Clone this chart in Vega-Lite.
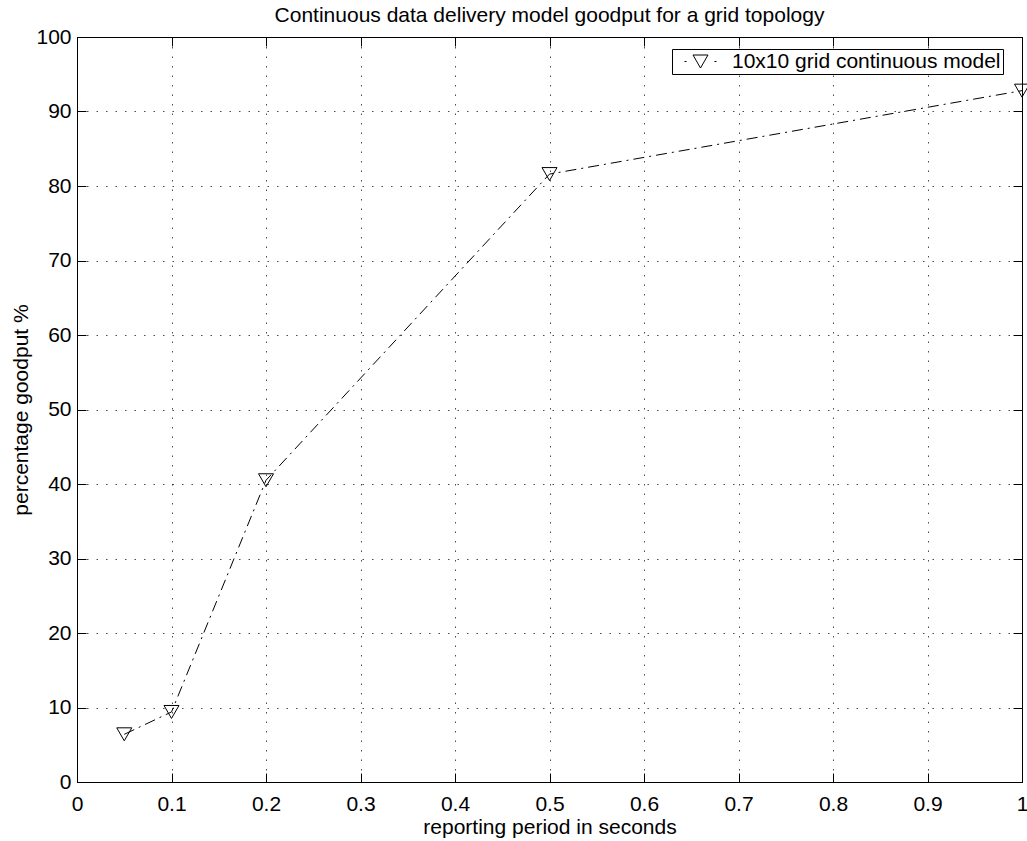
{
  "$schema": "https://vega.github.io/schema/vega-lite/v6.json",
  "width": 945,
  "height": 745,
  "autosize": {"type": "none"},
  "padding": {"left": 77, "top": 37, "right": 5, "bottom": 59},
  "background": "white",
  "config": {
    "font": "Liberation Sans",
    "view": {"stroke": "black", "strokeWidth": 1},
    "axis": {
      "labelFont": "Liberation Sans",
      "titleFont": "Liberation Sans",
      "labelFontSize": 21,
      "titleFontSize": 21,
      "titleFontWeight": "normal",
      "labelColor": "black",
      "titleColor": "black",
      "domainColor": "black",
      "tickColor": "black",
      "gridColor": "black",
      "gridOpacity": 0.7,
      "gridDash": [1.5, 8],
      "gridWidth": 1
    }
  },
  "title": {
    "text": "Continuous data delivery model goodput for a grid topology",
    "font": "Liberation Sans",
    "fontSize": 21,
    "fontWeight": "normal",
    "color": "black",
    "anchor": "middle",
    "baseline": "alphabetic",
    "offset": -17
  },
  "data": {
    "values": [
      {"period": 0.05, "goodput": 6.4, "series": "10x10 grid continuous model"},
      {"period": 0.1, "goodput": 9.4, "series": "10x10 grid continuous model"},
      {"period": 0.2, "goodput": 40.5, "series": "10x10 grid continuous model"},
      {"period": 0.5, "goodput": 81.6, "series": "10x10 grid continuous model"},
      {"period": 1.0, "goodput": 92.8, "series": "10x10 grid continuous model"}
    ]
  },
  "layer": [
    {
      "mark": {"type": "line", "color": "black", "strokeWidth": 1, "strokeDash": [11, 5, 2, 5]},
      "encoding": {
        "x": {
          "field": "period", "type": "quantitative",
          "scale": {"domain": [0, 1], "nice": false, "zero": false},
          "axis": {
            "orient": "bottom",
            "title": "reporting period in seconds",
            "values": [0, 0.1, 0.2, 0.3, 0.4, 0.5, 0.6, 0.7, 0.8, 0.9, 1],
            "format": "~g",
            "grid": true,
            "tickSize": -9,
            "labelPadding": 20,
            "labelFlush": false,
            "labelOverlap": false,
            "titleY": 51,
            "titleBaseline": "alphabetic"
          }
        },
        "y": {
          "field": "goodput", "type": "quantitative",
          "scale": {"domain": [0, 100], "nice": false, "zero": false},
          "axis": {
            "orient": "left",
            "title": "percentage goodput %",
            "values": [0, 10, 20, 30, 40, 50, 60, 70, 80, 90, 100],
            "grid": true,
            "tickSize": -9,
            "labelPadding": 15,
            "labelFlush": false,
            "labelOverlap": false,
            "titleX": -50,
            "titleBaseline": "alphabetic"
          }
        }
      }
    },
    {
      "mark": {"type": "point", "shape": "triangle-down", "size": 225, "filled": false, "strokeWidth": 1, "opacity": 1},
      "encoding": {
        "x": {
          "field": "period", "type": "quantitative",
          "scale": {"domain": [0, 1], "nice": false, "zero": false},
          "axis": {
            "orient": "top",
            "title": null,
            "values": [0, 0.1, 0.2, 0.3, 0.4, 0.5, 0.6, 0.7, 0.8, 0.9, 1],
            "labels": false,
            "grid": false,
            "domain": false,
            "tickSize": -9
          }
        },
        "y": {
          "field": "goodput", "type": "quantitative",
          "scale": {"domain": [0, 100], "nice": false, "zero": false},
          "axis": {
            "orient": "right",
            "title": null,
            "values": [0, 10, 20, 30, 40, 50, 60, 70, 80, 90, 100],
            "labels": false,
            "grid": false,
            "domain": false,
            "tickSize": -9
          }
        },
        "stroke": {
          "field": "series", "type": "nominal",
          "scale": {"range": ["black"]},
          "legend": {
            "title": null,
            "orient": "none",
            "legendX": 595,
            "legendY": 12,
            "padding": 2,
            "strokeColor": "black",
            "fillColor": "white",
            "cornerRadius": 0,
            "symbolType": "M-1.6,0H-1.4M1.4,0H1.6M-0.75,-0.65L0.75,-0.65L0,0.65Z",
            "symbolSize": 400,
            "symbolStrokeWidth": 1,
            "symbolFillColor": "transparent",
            "symbolStrokeColor": "black",
            "symbolOffset": 16,
            "labelFont": "Liberation Sans",
            "labelFontSize": 21,
            "labelColor": "black",
            "labelOffset": 21,
            "labelLimit": 500,
            "labelExpr": "datum.label + '\u00a0'"
          }
        }
      }
    }
  ],
  "resolve": {"axis": {"x": "independent", "y": "independent"}}
}
